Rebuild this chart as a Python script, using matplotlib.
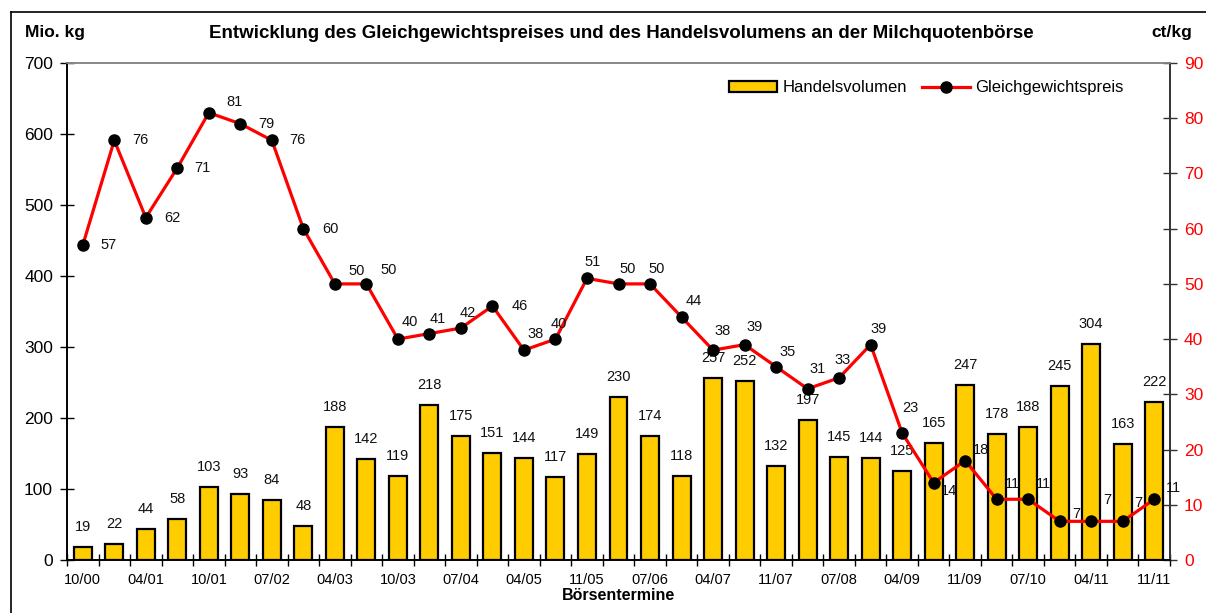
import numpy as np
import matplotlib
matplotlib.use("Agg")
import matplotlib.pyplot as plt
from matplotlib.lines import Line2D
from matplotlib.patches import Patch

plt.rcParams['font.family'] = ['Liberation Sans', 'DejaVu Sans']

# Börsentermine (Handelsvolumen in Mio. kg, Gleichgewichtspreis in ct/kg)
tick_labels = ['10/00', '04/01', '10/01', '07/02', '04/03', '10/03', '07/04', '04/05', '11/05',
               '07/06', '04/07', '11/07', '07/08', '04/09', '11/09', '07/10', '04/11', '11/11']
volumen = [19, 22, 44, 58, 103, 93, 84, 48, 188, 142, 119, 218, 175, 151, 144, 117, 149, 230,
           174, 118, 257, 252, 132, 197, 145, 144, 125, 165, 247, 178, 188, 245, 304, 163, 222]
preis = [57, 76, 62, 71, 81, 79, 76, 60, 50, 50, 40, 41, 42, 46, 38, 40, 51, 50, 50, 44, 38, 39,
         35, 31, 33, 39, 23, 14, 18, 11, 11, 7, 7, 7, 11]

# label placement of the price labels (pixels, right / down)
preis_offsets = [(26, 0), (26, 0), (27, 0), (25, 0), (26, -11), (26, 0), (26, 0), (27, 0),
                 (22, -13), (22, -14), (12, -17), (8, -15), (7, -15), (27, 0), (12, -16),
                 (3, -15), (6, -16), (9, -15), (7, -15), (12, -16), (10, -19), (10, -18),
                 (12, -15), (10, -20), (3, -18), (8, -16), (8, -25), (15, 8), (16, -11),
                 (16, -15), (15, -15), (17, -7), (16, -21), (16, -18), (19, -11)]

n = len(volumen)
x = np.arange(n)
yellow = '#FFCC00'

fig = plt.figure(figsize=(12.06, 6.13), dpi=100)
ax = fig.add_axes([67/1206, 1-560/613, (1170-67)/1206, (560-63)/613])
ax2 = ax.twinx()

ax.bar(x, volumen, width=0.57, color=yellow, edgecolor='black', linewidth=1.6, zorder=2)
for xi, v in zip(x, volumen):
    ax.annotate(str(v), (xi, v), xytext=(0, 20), textcoords='offset pixels',
                ha='center', va='center', fontsize=10.5, color='#111111')

ax2.plot(x, preis, color='#FF0000', lw=2.3, marker='o', ms=8, mfc='black', mec='black', zorder=3)
for xi, p, (dx, dy) in zip(x, preis, preis_offsets):
    ax2.annotate(str(p), (xi, p), xytext=(dx, -dy), textcoords='offset pixels',
                 ha='center', va='center', fontsize=10.5, color='#111111')

ax.set_xlim(-0.5, n - 0.5)
ax.set_ylim(0, 700)
ax2.set_ylim(0, 90)
ax.set_yticks(np.arange(0, 701, 100))
ax2.set_yticks(np.arange(0, 91, 10))

ax.set_xticks(np.arange(0, n, 2))
ax.set_xticklabels(tick_labels)
ax.set_xticks(np.arange(-0.5, n, 1), minor=True)
ax.tick_params(axis='x', which='major', length=0, pad=9, labelsize=10.5)
ax.tick_params(axis='x', which='minor', direction='inout', length=8, width=1)
ax.tick_params(axis='y', direction='inout', length=10, width=1, labelsize=12.5, pad=5)
ax2.tick_params(axis='y', direction='inout', length=10, width=1, labelsize=12.5,
                labelcolor='#FF0000', color='#333333', pad=5)

for a in (ax, ax2):
    a.spines['top'].set_color('#888888')
    a.spines['top'].set_linewidth(1.2)
    a.spines['left'].set_linewidth(1.2)
    a.spines['bottom'].set_linewidth(1.2)
    a.spines['right'].set_color('#333333')
    a.spines['right'].set_linewidth(1.2)

ax.set_xlabel('Börsentermine', fontsize=11.5, fontweight='bold', labelpad=1)

fig.text(621/1206, 1-33/613, 'Entwicklung des Gleichgewichtspreises und des Handelsvolumens an der Milchquotenbörse',
         ha='center', va='center', fontsize=13.5, fontweight='bold')
fig.text(25/1206, 1-33/613, 'Mio. kg', ha='left', va='center', fontsize=12.5, fontweight='bold')
fig.text(1192/1206, 1-33/613, 'ct/kg', ha='right', va='center', fontsize=12.5, fontweight='bold')

handles = [Patch(facecolor=yellow, edgecolor='black', linewidth=1.6),
           Line2D([0], [0], color='#FF0000', lw=2.3, marker='o', ms=8, mfc='black', mec='black')]
ax2.legend(handles, ['Handelsvolumen', 'Gleichgewichtspreis'], loc='center',
           bbox_to_anchor=(0.779, 0.95), ncol=2, frameon=False, fontsize=12,
           handlelength=2.9, handletextpad=0.3, columnspacing=0.9)

# outer chart frame
fig.add_artist(Line2D([11/1206, 1.0], [1-12/613, 1-12/613], color='black', lw=1.2))
fig.add_artist(Line2D([11/1206, 11/1206], [0.0, 1-12/613], color='black', lw=1.2))

fig.savefig('out.png', dpi=100)
